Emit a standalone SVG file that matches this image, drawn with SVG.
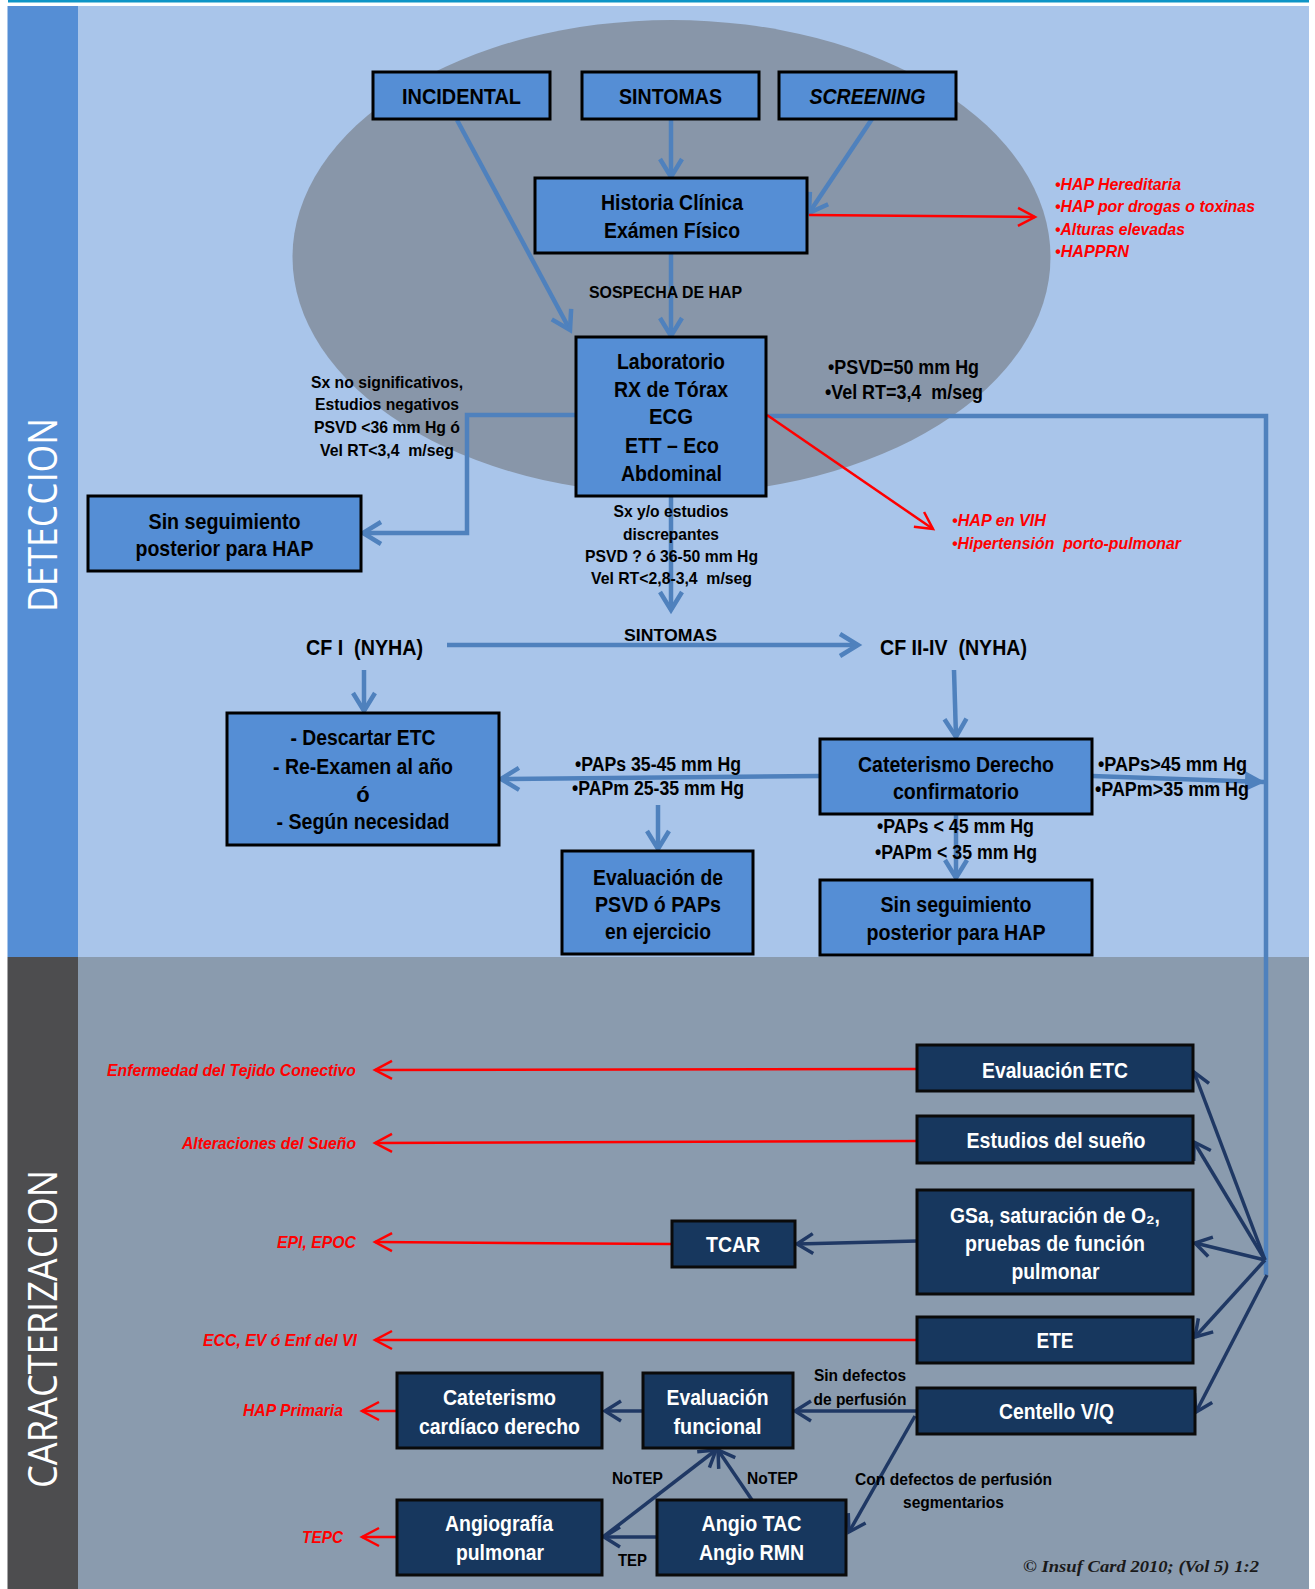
<svg xmlns="http://www.w3.org/2000/svg" width="1315" height="1589" viewBox="0 0 1315 1589" xml:space="preserve">
<defs>
<style>
text{font-family:"Liberation Sans Narrow","Arial Narrow","Liberation Sans",sans-serif;font-weight:bold;white-space:pre}
.bt{font-size:22px;fill:#000;text-anchor:middle}
.wt{font-size:22px;fill:#fff;text-anchor:middle}
.lb{font-size:17px;fill:#000}
.lc{font-size:17px;fill:#000;text-anchor:middle}
.lm{font-size:19.5px;fill:#000}
.rd{font-size:17px;fill:#f00;font-style:italic}
.re{font-size:17px;fill:#f00;font-style:italic;text-anchor:end}
.vt{font-family:"Open Sans","Noto Sans",sans-serif;font-weight:normal;font-size:40px;fill:#fff;text-anchor:middle}
.cp{font-family:"Liberation Serif",serif;font-weight:bold;font-style:italic;font-size:17.5px;fill:#1a1a1a;text-anchor:end}
.nb{fill:#558ed5;stroke:#000;stroke-width:3}
.nd{fill:#17375e;stroke:#0a0a0a;stroke-width:3}
.cb{fill:none;stroke:#4f81bd;stroke-width:4.5}
.cr{fill:none;stroke:#f00;stroke-width:2.5}
.cn{fill:none;stroke:#1f3864;stroke-width:3.5}
</style>
<marker id="aB" markerUnits="userSpaceOnUse" viewBox="0 0 20 22" markerWidth="20" markerHeight="22" refX="18" refY="11" orient="auto" overflow="visible"><path d="M0,0 L18,11 L0,22" fill="none" stroke="#4f81bd" stroke-width="4.5"/></marker>
<marker id="aF" markerUnits="userSpaceOnUse" viewBox="0 0 20 20" markerWidth="20" markerHeight="20" refX="19" refY="10" orient="auto" overflow="visible"><path d="M0,0 L20,10 L0,20 Z" fill="#4f81bd"/></marker>
<marker id="aR" markerUnits="userSpaceOnUse" viewBox="0 0 18 18" markerWidth="18" markerHeight="18" refX="17" refY="9" orient="auto" overflow="visible"><path d="M0,0 L17,9 L0,18" fill="none" stroke="#f00" stroke-width="2.5"/></marker>
<marker id="aN" markerUnits="userSpaceOnUse" viewBox="0 0 17 20" markerWidth="17" markerHeight="20" refX="16" refY="10" orient="auto" overflow="visible"><path d="M0,0 L16,10 L0,20" fill="none" stroke="#1f3864" stroke-width="3.5"/></marker>
</defs>
<g id="background">
<rect x="8" y="0" width="1301" height="2.5" fill="#0e95c6"/>
<rect x="7.5" y="6" width="70.5" height="951" fill="#558ed5"/>
<rect x="78" y="6" width="1231" height="951" fill="#a9c5ea"/>
<rect x="7.5" y="957" width="70.5" height="632" fill="#4d4d4f"/>
<rect x="78" y="957" width="1231" height="632" fill="#8a9bae"/>
<ellipse cx="671.5" cy="257" rx="379" ry="237" fill="#8896a9"/>
<text class="vt" x="56.5" y="515" transform="rotate(-90 56.5 515)" textLength="194" lengthAdjust="spacingAndGlyphs">DETECCION</text>
<text class="vt" x="56.5" y="1329" transform="rotate(-90 56.5 1329)" textLength="318" lengthAdjust="spacingAndGlyphs">CARACTERIZACION</text>
</g>
<g id="connectors">
<line class="cb" x1="457" y1="120" x2="570" y2="330" marker-end="url(#aB)"/>
<line class="cb" x1="671" y1="119" x2="671" y2="177" marker-end="url(#aB)"/>
<line class="cb" x1="872" y1="119" x2="809" y2="213" marker-end="url(#aB)"/>
<line class="cb" x1="671" y1="253" x2="671" y2="336" marker-end="url(#aB)"/>
<polyline class="cb" points="576,415 467,415 467,533 363,533" marker-end="url(#aB)"/>
<line class="cb" x1="671" y1="496" x2="671" y2="610" marker-end="url(#aB)"/>
<line class="cb" x1="447" y1="645" x2="858" y2="645" marker-end="url(#aB)"/>
<line class="cb" x1="364" y1="670" x2="364" y2="711" marker-end="url(#aB)"/>
<line class="cb" x1="954" y1="670" x2="956" y2="737" marker-end="url(#aB)"/>
<line class="cb" x1="820" y1="776" x2="501" y2="779" marker-end="url(#aB)"/>
<line class="cb" x1="658" y1="805" x2="658" y2="849" marker-end="url(#aB)"/>
<line class="cb" x1="956" y1="814" x2="956" y2="878" marker-end="url(#aB)"/>
<line class="cb" x1="1092" y1="776" x2="1264" y2="782" marker-end="url(#aF)"/>
<polyline class="cb" points="767,416 1266,416 1266,1275"/>
<line class="cr" x1="809" y1="215" x2="1035" y2="217" marker-end="url(#aR)"/>
<line class="cr" x1="767" y1="415" x2="933" y2="529" marker-end="url(#aR)"/>
<line class="cr" x1="917" y1="1069" x2="375" y2="1070" marker-end="url(#aR)"/>
<line class="cr" x1="917" y1="1141" x2="375" y2="1143" marker-end="url(#aR)"/>
<line class="cr" x1="672" y1="1244" x2="375" y2="1242" marker-end="url(#aR)"/>
<line class="cr" x1="917" y1="1340" x2="375" y2="1340" marker-end="url(#aR)"/>
<line class="cr" x1="397" y1="1411" x2="362" y2="1411" marker-end="url(#aR)"/>
<line class="cr" x1="397" y1="1537" x2="362" y2="1537" marker-end="url(#aR)"/>
<line class="cn" x1="917" y1="1241" x2="797" y2="1244" marker-end="url(#aN)"/>
<line class="cn" x1="917" y1="1411" x2="795" y2="1411" marker-end="url(#aN)"/>
<line class="cn" x1="915" y1="1416" x2="849" y2="1532" marker-end="url(#aN)"/>
<line class="cn" x1="752" y1="1500" x2="718" y2="1450" marker-end="url(#aN)"/>
<line class="cn" x1="603" y1="1537" x2="716" y2="1450" marker-end="url(#aN)"/>
<line class="cn" x1="657" y1="1537" x2="604" y2="1537" marker-end="url(#aN)"/>
<line class="cn" x1="643" y1="1411" x2="605" y2="1411" marker-end="url(#aN)"/>
<line class="cn" x1="1265" y1="1260" x2="1194" y2="1072" marker-end="url(#aN)"/>
<line class="cn" x1="1265" y1="1260" x2="1194" y2="1142" marker-end="url(#aN)"/>
<line class="cn" x1="1265" y1="1260" x2="1195" y2="1243" marker-end="url(#aN)"/>
<line class="cn" x1="1265" y1="1260" x2="1195" y2="1337" marker-end="url(#aN)"/>
<line class="cn" x1="1267" y1="1275" x2="1196" y2="1412" marker-end="url(#aN)"/>
</g>
<g id="n-incidental"><rect class="nb" x="373" y="72" width="177" height="47"/><text class="bt" x="461.5" y="104" font-size="23" textLength="119" lengthAdjust="spacingAndGlyphs">INCIDENTAL</text></g>
<g id="n-sintomas"><rect class="nb" x="582" y="72" width="177" height="47"/><text class="bt" x="670.5" y="104" font-size="23" textLength="103" lengthAdjust="spacingAndGlyphs">SINTOMAS</text></g>
<g id="n-screening"><rect class="nb" x="779" y="72" width="177" height="47"/><text class="bt" x="867.5" y="104" font-size="23" font-style="italic" textLength="116" lengthAdjust="spacingAndGlyphs">SCREENING</text></g>
<g id="n-historia"><rect class="nb" x="535" y="178" width="272" height="75"/><text class="bt" x="672" y="209.5" textLength="142" lengthAdjust="spacingAndGlyphs">Historia Clínica</text><text class="bt" x="672" y="237.5" textLength="136" lengthAdjust="spacingAndGlyphs">Exámen Físico</text></g>
<g id="n-laboratorio"><rect class="nb" x="576" y="337" width="190" height="159"/>
<text class="bt" x="671" y="368.5" textLength="108" lengthAdjust="spacingAndGlyphs">Laboratorio</text><text class="bt" x="671" y="396.5" textLength="114" lengthAdjust="spacingAndGlyphs">RX de Tórax</text><text class="bt" x="671" y="423.5" textLength="44" lengthAdjust="spacingAndGlyphs">ECG</text><text class="bt" x="672" y="452.5" textLength="94" lengthAdjust="spacingAndGlyphs">ETT – Eco</text><text class="bt" x="671.5" y="480.5" textLength="101" lengthAdjust="spacingAndGlyphs">Abdominal</text></g>
<g id="n-sinseg1"><rect class="nb" x="88" y="496" width="273" height="75"/><text class="bt" x="224.5" y="528.5" textLength="152" lengthAdjust="spacingAndGlyphs">Sin seguimiento</text><text class="bt" x="224.5" y="555.5" textLength="178" lengthAdjust="spacingAndGlyphs">posterior para HAP</text></g>
<g id="n-cf1"><text class="bt" x="364.5" y="654.5" textLength="117" lengthAdjust="spacingAndGlyphs">CF I  (NYHA)</text></g>
<g id="n-cf2"><text class="bt" x="953.5" y="654.5" textLength="147" lengthAdjust="spacingAndGlyphs">CF II-IV  (NYHA)</text></g>
<g id="n-descartar"><rect class="nb" x="227" y="713" width="272" height="132"/>
<text class="bt" x="363" y="744.5" textLength="145" lengthAdjust="spacingAndGlyphs">- Descartar ETC</text><text class="bt" x="363" y="773.5" textLength="180" lengthAdjust="spacingAndGlyphs">- Re-Examen al año</text><text class="bt" x="363" y="801.5">ó</text><text class="bt" x="363" y="828.5" textLength="173" lengthAdjust="spacingAndGlyphs">- Según necesidad</text></g>
<g id="n-cateterismo"><rect class="nb" x="820" y="739" width="272" height="75"/><text class="bt" x="956" y="771.5" textLength="196" lengthAdjust="spacingAndGlyphs">Cateterismo Derecho</text><text class="bt" x="956" y="798.5" textLength="126" lengthAdjust="spacingAndGlyphs">confirmatorio</text></g>
<g id="n-evalpsvd"><rect class="nb" x="562" y="851" width="191" height="103"/><text class="bt" x="658" y="884.5" textLength="130" lengthAdjust="spacingAndGlyphs">Evaluación de</text><text class="bt" x="658" y="911.5" textLength="126" lengthAdjust="spacingAndGlyphs">PSVD ó PAPs</text><text class="bt" x="658" y="938.5" textLength="106" lengthAdjust="spacingAndGlyphs">en ejercicio</text></g>
<g id="n-sinseg2"><rect class="nb" x="820" y="880" width="272" height="75"/><text class="bt" x="956" y="911.5" textLength="151" lengthAdjust="spacingAndGlyphs">Sin seguimiento</text><text class="bt" x="956" y="939.5" textLength="179" lengthAdjust="spacingAndGlyphs">posterior para HAP</text></g>
<g id="n-evaletc"><rect class="nd" x="917" y="1045" width="276" height="46"/><text class="wt" x="1055" y="1077.5" textLength="146" lengthAdjust="spacingAndGlyphs">Evaluación ETC</text></g>
<g id="n-sueno"><rect class="nd" x="917" y="1116" width="276" height="47"/><text class="wt" x="1056" y="1147.5" textLength="179" lengthAdjust="spacingAndGlyphs">Estudios del sueño</text></g>
<g id="n-gsa"><rect class="nd" x="917" y="1190" width="276" height="104"/><text class="wt" x="1055" y="1222.5" textLength="210" lengthAdjust="spacingAndGlyphs">GSa, saturación de O₂,</text><text class="wt" x="1055" y="1250.5" textLength="180" lengthAdjust="spacingAndGlyphs">pruebas de función</text><text class="wt" x="1055.5" y="1278.5" textLength="88" lengthAdjust="spacingAndGlyphs">pulmonar</text></g>
<g id="n-ete"><rect class="nd" x="917" y="1317" width="276" height="46"/><text class="wt" x="1055" y="1347.5" textLength="37" lengthAdjust="spacingAndGlyphs">ETE</text></g>
<g id="n-centello"><rect class="nd" x="917" y="1388" width="278" height="46"/><text class="wt" x="1056.5" y="1418.5" textLength="115" lengthAdjust="spacingAndGlyphs">Centello V/Q</text></g>
<g id="n-tcar"><rect class="nd" x="672" y="1221" width="123" height="46"/><text class="wt" x="733" y="1251.5" textLength="54" lengthAdjust="spacingAndGlyphs">TCAR</text></g>
<g id="n-evalfunc"><rect class="nd" x="643" y="1373" width="150" height="75"/><text class="wt" x="717.5" y="1404.5" textLength="102" lengthAdjust="spacingAndGlyphs">Evaluación</text><text class="wt" x="717.5" y="1433.5" textLength="88" lengthAdjust="spacingAndGlyphs">funcional</text></g>
<g id="n-catcard"><rect class="nd" x="397" y="1373" width="205" height="75"/><text class="wt" x="499.5" y="1404.5" textLength="113" lengthAdjust="spacingAndGlyphs">Cateterismo</text><text class="wt" x="499.5" y="1433.5" textLength="161" lengthAdjust="spacingAndGlyphs">cardíaco derecho</text></g>
<g id="n-angiografia"><rect class="nd" x="397" y="1500" width="205" height="75"/><text class="wt" x="499" y="1531" textLength="108" lengthAdjust="spacingAndGlyphs">Angiografía</text><text class="wt" x="500" y="1560" textLength="88" lengthAdjust="spacingAndGlyphs">pulmonar</text></g>
<g id="n-angiotac"><rect class="nd" x="657" y="1500" width="189" height="75"/><text class="wt" x="751.5" y="1531" textLength="100" lengthAdjust="spacingAndGlyphs">Angio TAC</text><text class="wt" x="751.5" y="1560" textLength="105" lengthAdjust="spacingAndGlyphs">Angio RMN</text></g>
<g id="labels">
<text class="lc" x="665.5" y="297.5" font-size="15.5" textLength="153" lengthAdjust="spacingAndGlyphs">SOSPECHA DE HAP</text>
<text class="lc" x="387" y="388" textLength="152" lengthAdjust="spacingAndGlyphs">Sx no significativos,</text>
<text class="lc" x="387" y="410" textLength="144" lengthAdjust="spacingAndGlyphs">Estudios negativos</text>
<text class="lc" x="387" y="433" textLength="146" lengthAdjust="spacingAndGlyphs">PSVD &lt;36 mm Hg ó</text>
<text class="lc" x="387" y="456" textLength="134" lengthAdjust="spacingAndGlyphs">Vel RT&lt;3,4  m/seg</text>
<text class="lm" x="828" y="374" textLength="151" lengthAdjust="spacingAndGlyphs">•PSVD=50 mm Hg</text>
<text class="lm" x="825" y="399" textLength="158" lengthAdjust="spacingAndGlyphs">•Vel RT=3,4  m/seg</text>
<text class="rd" x="1055" y="190" textLength="126" lengthAdjust="spacingAndGlyphs">•HAP Hereditaria</text>
<text class="rd" x="1055" y="212" textLength="200" lengthAdjust="spacingAndGlyphs">•HAP por drogas o toxinas</text>
<text class="rd" x="1055" y="235" textLength="130" lengthAdjust="spacingAndGlyphs">•Alturas elevadas</text>
<text class="rd" x="1055" y="257" textLength="74" lengthAdjust="spacingAndGlyphs">•HAPPRN</text>
<text class="rd" x="952" y="526" textLength="94" lengthAdjust="spacingAndGlyphs">•HAP en VIH</text>
<text class="rd" x="952" y="549" textLength="229" lengthAdjust="spacingAndGlyphs">•Hipertensión  porto-pulmonar</text>
<text class="lc" x="671" y="517" textLength="115" lengthAdjust="spacingAndGlyphs">Sx y/o estudios</text>
<text class="lc" x="671" y="540" textLength="96" lengthAdjust="spacingAndGlyphs">discrepantes</text>
<text class="lc" x="671.5" y="562" textLength="173" lengthAdjust="spacingAndGlyphs">PSVD ? ó 36-50 mm Hg</text>
<text class="lc" x="671.5" y="584" textLength="161" lengthAdjust="spacingAndGlyphs">Vel RT&lt;2,8-3,4  m/seg</text>
<text class="lc" x="670.5" y="641" font-size="19" textLength="93" lengthAdjust="spacingAndGlyphs">SINTOMAS</text>
<text class="lm" x="658" y="771" text-anchor="middle" textLength="166" lengthAdjust="spacingAndGlyphs">•PAPs 35-45 mm Hg</text>
<text class="lm" x="658" y="795" text-anchor="middle" textLength="172" lengthAdjust="spacingAndGlyphs">•PAPm 25-35 mm Hg</text>
<text class="lm" x="1098" y="771" textLength="149" lengthAdjust="spacingAndGlyphs">•PAPs&gt;45 mm Hg</text>
<text class="lm" x="1095" y="796" textLength="154" lengthAdjust="spacingAndGlyphs">•PAPm&gt;35 mm Hg</text>
<text class="lm" x="955.5" y="833" text-anchor="middle" textLength="157" lengthAdjust="spacingAndGlyphs">•PAPs &lt; 45 mm Hg</text>
<text class="lm" x="956" y="859" text-anchor="middle" textLength="162" lengthAdjust="spacingAndGlyphs">•PAPm &lt; 35 mm Hg</text>
<text class="re" x="356" y="1076" textLength="249" lengthAdjust="spacingAndGlyphs">Enfermedad del Tejido Conectivo</text>
<text class="re" x="356" y="1149" textLength="174" lengthAdjust="spacingAndGlyphs">Alteraciones del Sueño</text>
<text class="re" x="356" y="1248" textLength="79" lengthAdjust="spacingAndGlyphs">EPI, EPOC</text>
<text class="re" x="357" y="1346" textLength="154" lengthAdjust="spacingAndGlyphs">ECC, EV ó Enf del VI</text>
<text class="re" x="343" y="1416" textLength="100" lengthAdjust="spacingAndGlyphs">HAP Primaria</text>
<text class="re" x="343" y="1543" textLength="41" lengthAdjust="spacingAndGlyphs">TEPC</text>
<text class="lb" x="814" y="1381" font-size="16.5" textLength="92" lengthAdjust="spacingAndGlyphs">Sin defectos</text>
<text class="lb" x="813.5" y="1405" font-size="16.5" textLength="93" lengthAdjust="spacingAndGlyphs">de perfusión</text>
<text class="lc" x="953.5" y="1485" font-size="16.5" textLength="197" lengthAdjust="spacingAndGlyphs">Con defectos de perfusión</text>
<text class="lc" x="953.5" y="1508" font-size="16.5" textLength="101" lengthAdjust="spacingAndGlyphs">segmentarios</text>
<text class="lb" x="612" y="1484" font-size="16.5" textLength="51" lengthAdjust="spacingAndGlyphs">NoTEP</text>
<text class="lb" x="747" y="1484" font-size="16.5" textLength="51" lengthAdjust="spacingAndGlyphs">NoTEP</text>
<text class="lb" x="618" y="1566" font-size="16.5" textLength="29" lengthAdjust="spacingAndGlyphs">TEP</text>
<text class="cp" x="1259" y="1572" textLength="236" lengthAdjust="spacingAndGlyphs">© Insuf Card 2010; (Vol 5) 1:2</text>
</g>
</svg>
